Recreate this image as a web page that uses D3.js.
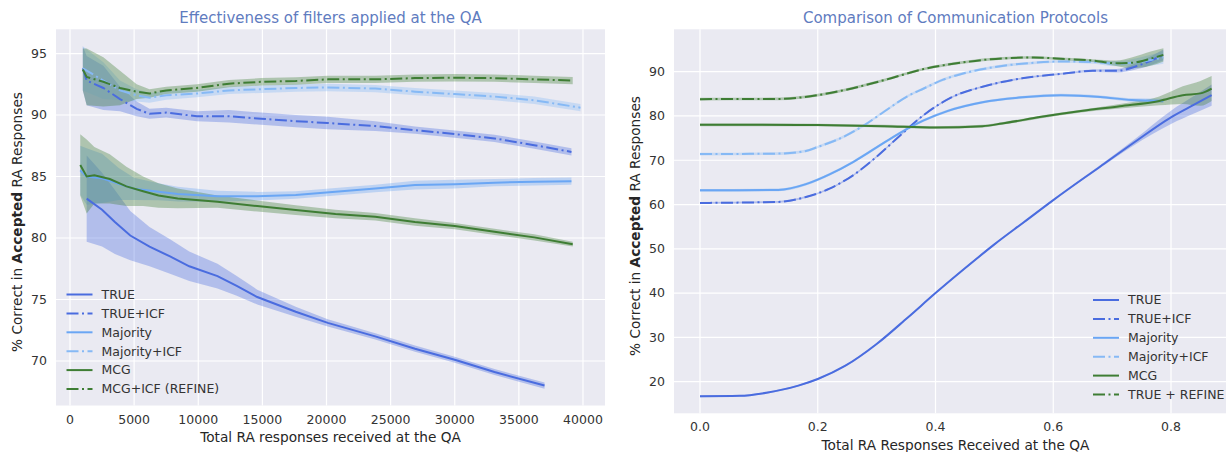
<!DOCTYPE html>
<html>
<head>
<meta charset="utf-8">
<script src="https://cdn.jsdelivr.net/npm/d3@7"></script>
<style>
	body { margin: 0; background: #fff; }
	svg { display: block; font-family: "DejaVu Sans", sans-serif; }
	.grid line { stroke: #fff; stroke-width: 1.2; }
	.tick-label { fill: #333; font-size: 12.5px; }
	.axis-label { fill: #262626; font-size: 13.7px; }
	.title { fill: #5f7cbf; font-size: 15px; }
	.legend text { fill: #333; font-size: 12.5px; }
</style>
</head>
<body>
<script>
// ---- left panel: Effectiveness of filters applied at the QA ----
var leftXTicks = [0, 5000, 10000, 15000, 20000, 25000, 30000, 35000, 40000];
var leftYTicks = [70, 75, 80, 85, 90, 95];

var leftTrueX = [1300, 2500, 3500, 4700, 6200, 7800, 9300, 11500, 13000, 14600, 17600, 20100, 23800, 26900, 30000, 33100, 37000];
var leftTrueY = [83.2, 82.3, 81.3, 80.2, 79.3, 78.5, 77.7, 76.9, 76.1, 75.2, 74.0, 73.1, 72.0, 71.0, 70.1, 69.1, 68.0];
var leftTrueCi = [3.5, 3.0, 2.6, 2.0, 1.6, 1.4, 1.2, 1.0, 0.8, 0.6, 0.4, 0.3, 0.25, 0.25, 0.25, 0.25, 0.25];

var leftTrueIcfX = [1000, 1300, 2600, 3900, 5200, 6200, 7500, 9900, 12400, 14900, 17600, 20100, 23800, 26900, 30000, 33100, 36200, 39100];
var leftTrueIcfY = [93.8, 92.8, 92.2, 91.3, 90.5, 90.1, 90.2, 89.9, 89.9, 89.7, 89.5, 89.35, 89.1, 88.77, 88.45, 88.1, 87.55, 87.0];
var leftTrueIcfCi = [1.8, 2.0, 1.8, 1.0, 0.6, 0.4, 0.4, 0.4, 0.5, 0.5, 0.5, 0.5, 0.4, 0.3, 0.3, 0.3, 0.3, 0.3];

var leftMajX = [800, 1300, 2500, 3800, 5000, 6900, 8400, 11500, 14600, 17600, 20700, 23800, 26900, 30000, 33100, 36200, 39100];
var leftMajY = [85.5, 85.0, 84.85, 84.4, 84.0, 83.76, 83.57, 83.4, 83.4, 83.5, 83.76, 84.03, 84.3, 84.38, 84.5, 84.57, 84.62];
var leftMajCi = [2.0, 2.3, 2.0, 1.3, 0.9, 0.7, 0.6, 0.45, 0.35, 0.3, 0.3, 0.3, 0.35, 0.35, 0.3, 0.3, 0.3];

var leftMajIcfX = [1000, 2600, 3900, 5200, 6200, 7500, 9900, 12400, 14900, 17600, 20100, 23800, 26900, 30000, 33100, 36200, 39800];
var leftMajIcfY = [93.8, 92.8, 92.0, 91.6, 91.4, 91.6, 91.75, 92.0, 92.1, 92.2, 92.24, 92.15, 91.9, 91.7, 91.5, 91.2, 90.6];
var leftMajIcfCi = [1.8, 1.5, 0.8, 0.5, 0.4, 0.35, 0.3, 0.3, 0.3, 0.3, 0.3, 0.3, 0.3, 0.3, 0.3, 0.3, 0.3];

var leftMcgX = [800, 1300, 1900, 3100, 4400, 5700, 6900, 8400, 11500, 14600, 17600, 20700, 23800, 26900, 30000, 33100, 36200, 39200];
var leftMcgY = [85.93, 85.0, 85.1, 84.8, 84.2, 83.8, 83.45, 83.22, 82.95, 82.6, 82.27, 81.95, 81.73, 81.3, 80.97, 80.5, 80.05, 79.5];
var leftMcgCi = [2.5, 3.0, 2.3, 2.0, 1.6, 1.2, 1.0, 0.8, 0.5, 0.45, 0.4, 0.35, 0.3, 0.3, 0.25, 0.25, 0.25, 0.2];

var leftMcgIcfX = [1000, 1300, 2600, 3900, 5200, 6200, 7500, 9900, 12400, 14900, 17600, 20100, 23800, 26900, 30000, 33100, 36200, 39200];
var leftMcgIcfY = [93.7, 93.1, 92.7, 92.2, 91.9, 91.75, 92.0, 92.2, 92.55, 92.7, 92.77, 92.9, 92.9, 93.0, 93.03, 93.0, 92.9, 92.8];
var leftMcgIcfCi = [1.7, 2.3, 2.0, 1.4, 0.6, 0.35, 0.3, 0.3, 0.3, 0.3, 0.3, 0.3, 0.3, 0.3, 0.3, 0.3, 0.3, 0.3];

// ---- right panel: Comparison of Communication Protocols ----
var rightXTicks = [0, 0.2, 0.4, 0.6, 0.8];
var rightYTicks = [20, 30, 40, 50, 60, 70, 80, 90];

var rightTrueX = [0, 0.067, 0.113, 0.167, 0.2, 0.247, 0.3, 0.353, 0.4, 0.45, 0.5, 0.55, 0.6, 0.68, 0.736, 0.8, 0.84, 0.869];
var rightTrueY = [16.7, 16.8, 17.5, 19.1, 20.6, 23.6, 28.5, 34.5, 40.0, 45.6, 51.0, 56.0, 61.0, 68.6, 73.9, 79.7, 82.6, 84.7];
var rightTrueCi = [0.2, 0.2, 0.2, 0.2, 0.2, 0.2, 0.2, 0.2, 0.2, 0.2, 0.2, 0.2, 0.2, 0.3, 0.6, 1.5, 2.0, 2.4];

var rightTrueIcfX = [0, 0.133, 0.18, 0.22, 0.26, 0.3, 0.34, 0.38, 0.427, 0.48, 0.547, 0.613, 0.667, 0.707, 0.747, 0.787];
var rightTrueIcfY = [60.36, 60.6, 61.7, 63.6, 66.6, 70.8, 75.6, 80.2, 84.2, 86.6, 88.5, 89.5, 90.2, 90.2, 91.5, 93.8];
var rightTrueIcfCi = [0.2, 0.2, 0.2, 0.2, 0.2, 0.2, 0.2, 0.2, 0.2, 0.2, 0.2, 0.2, 0.3, 0.4, 0.8, 1.2];

var rightMajX = [0, 0.133, 0.18, 0.22, 0.26, 0.3, 0.34, 0.38, 0.42, 0.48, 0.547, 0.613, 0.68, 0.733, 0.787];
var rightMajY = [63.2, 63.3, 64.6, 66.8, 69.6, 72.9, 76.2, 79.0, 81.1, 83.1, 84.2, 84.7, 84.3, 83.6, 83.4];
var rightMajCi = [0.3, 0.3, 0.3, 0.3, 0.3, 0.3, 0.3, 0.3, 0.3, 0.3, 0.3, 0.3, 0.3, 0.4, 0.5];

var rightMajIcfX = [0, 0.133, 0.18, 0.2, 0.247, 0.28, 0.313, 0.353, 0.38, 0.413, 0.447, 0.513, 0.567, 0.613, 0.667, 0.707, 0.747, 0.787];
var rightMajIcfY = [71.4, 71.5, 72.1, 73.0, 75.5, 78.0, 81.0, 84.5, 86.2, 88.2, 89.6, 91.3, 92.0, 92.3, 92.2, 91.8, 92.2, 93.2];
var rightMajIcfCi = [0.3, 0.3, 0.3, 0.3, 0.3, 0.3, 0.3, 0.3, 0.3, 0.3, 0.3, 0.3, 0.3, 0.3, 0.4, 0.6, 1.0, 1.4];

var rightMcgX = [0, 0.1, 0.2, 0.313, 0.4, 0.48, 0.513, 0.58, 0.647, 0.713, 0.78, 0.82, 0.85, 0.869];
var rightMcgY = [78.0, 78.0, 77.95, 77.7, 77.4, 77.7, 78.3, 79.8, 81.1, 82.2, 83.4, 84.7, 85.1, 86.2];
var rightMcgCi = [0.3, 0.3, 0.3, 0.3, 0.3, 0.3, 0.3, 0.3, 0.3, 0.5, 1.0, 2.0, 2.8, 2.8];

var rightRefineX = [0, 0.133, 0.2, 0.247, 0.313, 0.38, 0.447, 0.513, 0.567, 0.613, 0.667, 0.707, 0.733, 0.767, 0.787];
var rightRefineY = [83.8, 83.85, 84.7, 85.9, 88.1, 90.6, 92.1, 93.0, 93.2, 92.9, 92.5, 91.9, 92.0, 93.0, 93.8];
var rightRefineCi = [0.3, 0.3, 0.3, 0.3, 0.3, 0.3, 0.3, 0.3, 0.3, 0.3, 0.3, 0.6, 1.2, 1.6, 1.5];

var colors = {
	trueBlue: '#4a6cdf',
	majority: '#6aa6f4',
	majorityIcf: '#86b9f5',
	mcg: '#3e7d34'
};
var dashDot = '12,3.5,2,3.5';

function makeSeries(names, xs, ys, cis) {
	var styles = [
		{ color: colors.trueBlue, dash: null },
		{ color: colors.trueBlue, dash: dashDot },
		{ color: colors.majority, dash: null },
		{ color: colors.majorityIcf, dash: dashDot },
		{ color: colors.mcg, dash: null },
		{ color: colors.mcg, dash: dashDot }
	];
	return names.map(function(name, i) {
		return {
			name: name,
			color: styles[i].color,
			dash: styles[i].dash,
			points: xs[i].map(function(x, j) {
				return { x: x, y: ys[i][j], ci: cis[i][j] };
			})
		};
	});
}

var svg = d3.select('body').append('svg')
	.attr('width', 1226)
	.attr('height', 452);

function drawPanel(p) {
	var x = d3.scaleLinear().domain(p.xDomain).range([p.left, p.right]);
	var y = d3.scaleLinear().domain(p.yDomain).range([p.bottom, p.top]);
	var g = svg.append('g');

	g.append('rect')
		.attr('x', p.left)
		.attr('y', p.top)
		.attr('width', p.right - p.left)
		.attr('height', p.bottom - p.top)
		.attr('fill', '#eaeaf2');

	var grid = g.append('g').attr('class', 'grid');
	grid.selectAll('.gx').data(p.xTicks).enter().append('line')
		.attr('x1', function(d) { return x(d); })
		.attr('x2', function(d) { return x(d); })
		.attr('y1', p.top).attr('y2', p.bottom);
	grid.selectAll('.gy').data(p.yTicks).enter().append('line')
		.attr('y1', function(d) { return y(d); })
		.attr('y2', function(d) { return y(d); })
		.attr('x1', p.left).attr('x2', p.right);

	// tick labels, no tick marks (darkgrid style)
	g.selectAll('.xt').data(p.xTicks).enter().append('text')
		.attr('class', 'tick-label')
		.attr('x', function(d) { return x(d); })
		.attr('y', p.bottom + 18)
		.attr('text-anchor', 'middle')
		.text(p.xFormat);
	g.selectAll('.yt').data(p.yTicks).enter().append('text')
		.attr('class', 'tick-label')
		.attr('x', p.left - 9)
		.attr('y', function(d) { return y(d); })
		.attr('dy', '0.35em')
		.attr('text-anchor', 'end')
		.text(function(d) { return d; });

	var area = d3.area()
		.curve(p.curve)
		.x(function(d) { return x(d.x); })
		.y0(function(d) { return y(d.y - d.ci); })
		.y1(function(d) { return y(d.y + d.ci); });
	var line = d3.line()
		.curve(p.curve)
		.x(function(d) { return x(d.x); })
		.y(function(d) { return y(d.y); });

	g.selectAll('.band').data(p.series).enter().append('path')
		.attr('d', function(d) { return area(d.points); })
		.attr('fill', function(d) { return d.color; })
		.attr('fill-opacity', 0.35);
	g.selectAll('.line').data(p.series).enter().append('path')
		.attr('d', function(d) { return line(d.points); })
		.attr('fill', 'none')
		.attr('stroke', function(d) { return d.color; })
		.attr('stroke-width', 2)
		.attr('stroke-dasharray', function(d) { return d.dash; });

	// legend
	var lg = g.append('g').attr('class', 'legend')
		.attr('transform', 'translate(' + p.legendX + ',' + p.legendY + ')');
	var items = lg.selectAll('g').data(p.series).enter().append('g')
		.attr('transform', function(d, i) { return 'translate(0,' + i * 18.9 + ')'; });
	items.append('line')
		.attr('x1', 0).attr('x2', 26)
		.attr('stroke', function(d) { return d.color; })
		.attr('stroke-width', 2)
		.attr('stroke-dasharray', function(d) { return d.dash; });
	items.append('text')
		.attr('x', 35)
		.attr('dy', '0.35em')
		.text(function(d) { return d.name; });

	// titles and labels
	var cx = (p.left + p.right) / 2;
	g.append('text').attr('class', 'title')
		.attr('x', cx).attr('y', 22.5)
		.attr('text-anchor', 'middle')
		.text(p.title);
	g.append('text').attr('class', 'axis-label')
		.attr('x', cx).attr('y', p.xLabelY)
		.attr('text-anchor', 'middle')
		.text(p.xLabel);
	var yl = g.append('text').attr('class', 'axis-label')
		.attr('transform', 'translate(' + p.yLabelX + ',' + p.yLabelY + ') rotate(-90)')
		.attr('text-anchor', 'middle');
	yl.append('tspan').text('% Correct in ');
	yl.append('tspan').attr('font-weight', 'bold').text('Accepted');
	yl.append('tspan').text(' RA Responses');
}

drawPanel({
	left: 56, right: 605, top: 29.3, bottom: 405.5,
	xDomain: [-1092, 41716], yDomain: [66.38, 96.97],
	xTicks: leftXTicks, yTicks: leftYTicks,
	xFormat: function(d) { return d; },
	curve: d3.curveLinear,
	series: makeSeries(
		['TRUE', 'TRUE+ICF', 'Majority', 'Majority+ICF', 'MCG', 'MCG+ICF (REFINE)'],
		[leftTrueX, leftTrueIcfX, leftMajX, leftMajIcfX, leftMcgX, leftMcgIcfX],
		[leftTrueY, leftTrueIcfY, leftMajY, leftMajIcfY, leftMcgY, leftMcgIcfY],
		[leftTrueCi, leftTrueIcfCi, leftMajCi, leftMajIcfCi, leftMcgCi, leftMcgIcfCi]),
	legendX: 66.5, legendY: 294.5,
	title: 'Effectiveness of filters applied at the QA',
	xLabel: 'Total RA responses received at the QA', xLabelY: 442,
	yLabelX: 22, yLabelY: 222
});

drawPanel({
	left: 674, right: 1237, top: 29.3, bottom: 413.3,
	xDomain: [-0.04416, 0.9121], yDomain: [12.86, 99.57],
	xTicks: rightXTicks, yTicks: rightYTicks,
	xFormat: d3.format('.1f'),
	curve: d3.curveMonotoneX,
	series: makeSeries(
		['TRUE', 'TRUE+ICF', 'Majority', 'Majority+ICF', 'MCG', 'TRUE + REFINE'],
		[rightTrueX, rightTrueIcfX, rightMajX, rightMajIcfX, rightMcgX, rightRefineX],
		[rightTrueY, rightTrueIcfY, rightMajY, rightMajIcfY, rightMcgY, rightRefineY],
		[rightTrueCi, rightTrueIcfCi, rightMajCi, rightMajIcfCi, rightMcgCi, rightRefineCi]),
	legendX: 1093, legendY: 300,
	title: 'Comparison of Communication Protocols',
	xLabel: 'Total RA Responses Received at the QA', xLabelY: 450,
	yLabelX: 640, yLabelY: 226
});
</script>
</body>
</html>
